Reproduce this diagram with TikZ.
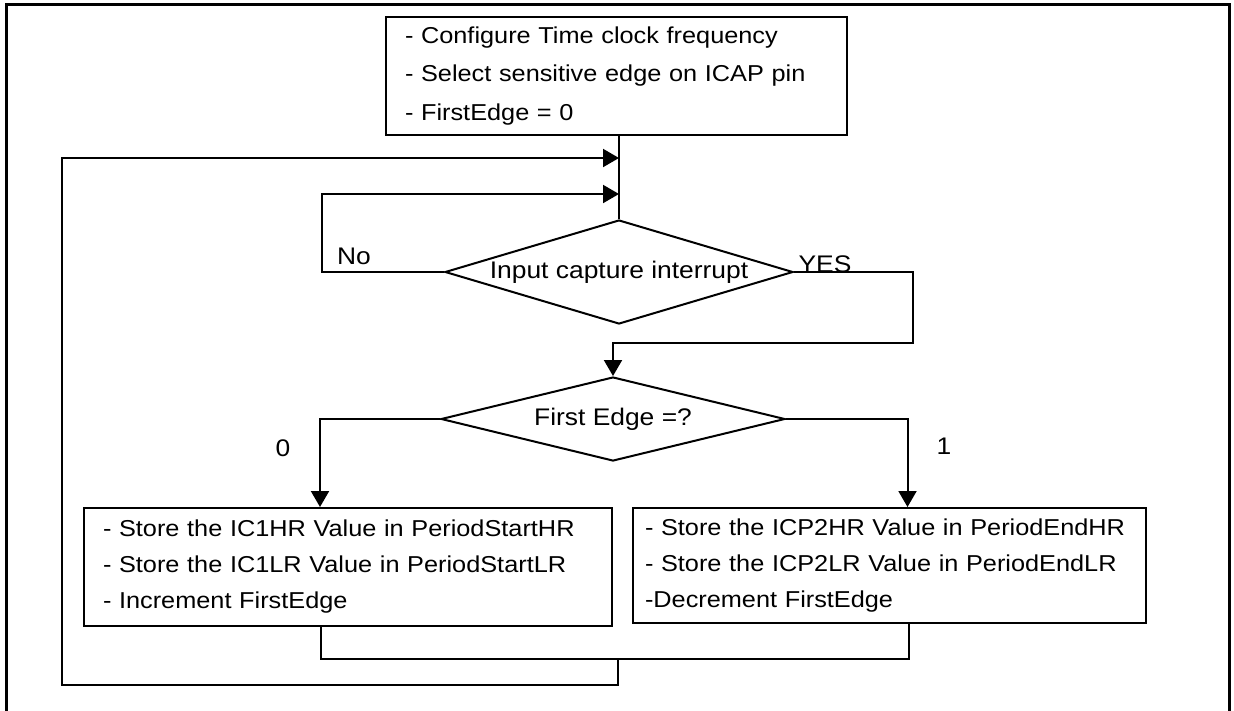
\documentclass[tikz,border=0pt]{standalone}
\usepackage{fontspec}
\setmainfont{Liberation Sans}[FakeStretch=1.1]
\newfontfamily\boxfont{Liberation Sans}[WordSpace=0.55,FakeStretch=1.1]
\usetikzlibrary{shapes.geometric,arrows.meta}

\begin{document}
\begin{tikzpicture}[x=1pt,y=-1pt,
  line width=2pt,
  box/.style={draw, rectangle, align=left, inner ysep=0pt,
    font=\boxfont\fontsize{23}{36}\selectfont},
  decision/.style={draw, diamond, inner sep=0pt,
    font=\fontsize{24}{28}\selectfont},
  lbl/.style={anchor=base, inner sep=0pt, font=\fontsize{24}{28}\selectfont},
  arr/.style={-{Triangle[length=16pt,width=18pt]}},
]
\useasboundingbox (0,0) rectangle (1234,710);

% outer frame
\draw[line width=3pt] (6,730) -- (6,4) -- (1229,4) -- (1229,730);

% initialisation block
\node[box, font=\boxfont\fontsize{23}{38.5}\selectfont,
      inner xsep=19pt, text width=423pt, minimum width=461pt, minimum height=118pt]
  (init) at (616.5,76)
  {- Configure Time clock frequency\\- Select sensitive edge on ICAP pin\\- FirstEdge = 0};

% decisions
\node[decision, aspect=3.35, minimum width=348pt, minimum height=104pt] (cap) at (619,272)
  {Input capture interrupt};
\node[decision, aspect=4.1, minimum width=344pt, minimum height=84pt] (edge) at (613,419)
  {First Edge =?};

% action blocks
\node[box, inner xsep=19pt, text width=490pt, minimum width=528pt, minimum height=118pt]
  (start) at (348,567)
  {- Store the IC1HR Value in PeriodStartHR\\- Store the IC1LR Value in PeriodStartLR\\- Increment FirstEdge};
\node[box, inner xsep=12pt, text width=489pt, minimum width=513pt, minimum height=115pt]
  (stop) at (889.5,565.5)
  {- Store the ICP2HR Value in PeriodEndHR\\- Store the ICP2LR Value in PeriodEndLR\\-Decrement FirstEdge};

% routing points
\coordinate (loopin) at (619,158);
\coordinate (noin) at (619,194);
\coordinate (nocorner) at (322,194);
\coordinate (yescorner) at (913,343);
\coordinate (join) at (618,659);
\coordinate (back) at (618,685);
\coordinate (backleft) at (62,685);
\coordinate (backtop) at (62,158);

% main line
\draw (init.south -| cap.north) -- (cap.north);

% "No" loop
\draw[arr] (cap.west) -| (nocorner) -- (noin);

% "YES" path
\draw[arr] (cap.east) -| (yescorner) -| (edge.north);

% branches
\draw[arr] (edge.west) -| ([xshift=-28pt]start.north);
\draw[arr] (edge.east) -| ([xshift=18pt]stop.north);

% merge and return
\draw ([xshift=-27pt]start.south) |- (join) -| ([xshift=19pt]stop.south);
\draw[arr] (join) -- (back) -- (backleft) -- (backtop) -- (loopin);

% labels
\node[lbl] at (354,264) {No};
\node[lbl] at (825,272) {YES};
\node[lbl] at (283,456) {0};
\node[lbl] at (944,454) {1};
\end{tikzpicture}
\end{document}
